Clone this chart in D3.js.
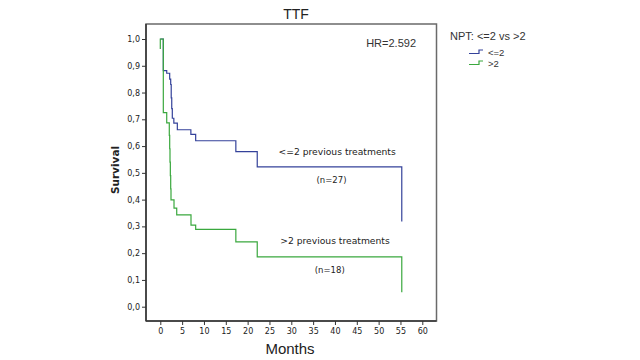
<!DOCTYPE html>
<html><head><meta charset="utf-8">
<script src="https://cdn.jsdelivr.net/npm/d3@7"></script>
<style>body{margin:0;background:#fff}</style>
</head><body>
<svg id="c" width="640" height="360"></svg>
<script>
// Data (time in months, survival proportion)
const groups = ["<=2", ">2"];
const lowTimes = [0, 0.69, 1.47, 2.15, 2.38, 2.5, 2.62, 2.75, 3.1, 3.9, 7.0, 8.1, 17.3, 22.2, 55.3];
const lowSurv  = [1, 0.882, 0.872, 0.85, 0.83, 0.78, 0.74, 0.704, 0.686, 0.661, 0.644, 0.62, 0.579, 0.522, 0.318];
const highTimes = [0, 0, 0.69, 1.47, 2.06, 2.15, 2.22, 2.3, 2.38, 2.45, 3.14, 3.76, 7.03, 8.1, 17.3, 22.2, 55.3];
const highSurv  = [0.963, 1, 0.725, 0.687, 0.64, 0.59, 0.54, 0.49, 0.44, 0.399, 0.368, 0.343, 0.305, 0.289, 0.242, 0.186, 0.054];
const xTicks = [0,5,10,15,20,25,30,35,40,45,50,55,60];
const yTicks = [0,0.1,0.2,0.3,0.4,0.5,0.6,0.7,0.8,0.9,1.0];
const colors = ["#34429a", "#3aa83e"];
const annotations = [
  {text: "<=2 previous treatments", t: 40.5, s: 0.575},
  {text: "(n=27)", t: 39.2, s: 0.472},
  {text: ">2 previous treatments", t: 40.0, s: 0.245},
  {text: "(n=18)", t: 38.8, s: 0.137}
];

const svg = d3.select("#c");
const box = {l: 146, r: 436.5, t: 24, b: 321};
const x = d3.scaleLinear().domain([0, 60]).range([160.3, 422.3]);
const y = d3.scaleLinear().domain([0, 1]).range([306.7, 39]);

svg.append("rect").attr("x", box.l).attr("y", box.t).attr("width", box.r - box.l).attr("height", box.b - box.t)
  .attr("fill", "none").attr("stroke", "#6a6a6a").attr("stroke-width", 1.5);

const yAxis = d3.axisLeft(y).tickValues(yTicks).tickSize(4).tickPadding(2)
  .tickFormat(d => d3.format(".1f")(d).replace(".", ","));
const gy = svg.append("g").attr("transform", `translate(${box.l},0)`).call(yAxis);
gy.select(".domain").remove();
gy.selectAll("line").attr("stroke", "#333");
gy.selectAll("text").attr("font-family", "DejaVu Sans").attr("font-size", 8).attr("fill", "#222");

const xAxis = d3.axisBottom(x).tickValues(xTicks).tickSize(4).tickPadding(3);
const gx = svg.append("g").attr("transform", `translate(0,${box.b})`).call(xAxis);
gx.select(".domain").remove();
gx.selectAll("line").attr("stroke", "#333");
gx.selectAll("text").attr("font-family", "DejaVu Sans").attr("font-size", 8).attr("fill", "#222");

svg.append("line").attr("x1", box.l).attr("x2", box.l).attr("y1", box.t).attr("y2", box.b).attr("stroke", "#333").attr("stroke-width", 1.5);
svg.append("line").attr("x1", box.l).attr("x2", box.r).attr("y1", box.b).attr("y2", box.b).attr("stroke", "#333").attr("stroke-width", 1.5);

const line = d3.line().x(d => x(d[0])).y(d => y(d[1])).curve(d3.curveStepAfter);
const series = [d3.zip(lowTimes, lowSurv), d3.zip(highTimes, highSurv)];
[0, 1].forEach(i => {
  svg.append("path").attr("d", line(series[i])).attr("fill", "none")
    .attr("stroke", colors[i]).attr("stroke-width", 1.2);
});

annotations.forEach(a => {
  const small = a.text.startsWith("(");
  svg.append("text").attr("x", x(a.t)).attr("y", y(a.s)).attr("text-anchor", "middle")
    .attr("font-family", "DejaVu Sans").attr("font-size", small ? 8.5 : 9.2)
    .attr("fill", "#222").attr("dominant-baseline", "middle").text(a.text);
});

svg.append("text").attr("x", 416).attr("y", 47).attr("text-anchor", "end")
  .attr("font-family", "Liberation Sans, Arial").attr("font-size", 11).attr("fill", "#333").text("HR=2.592");

svg.append("text").attr("x", 296).attr("y", 19).attr("text-anchor", "middle")
  .attr("font-family", "Liberation Sans, Arial").attr("font-size", 14).attr("fill", "#222").text("TTF");

svg.append("text").attr("x", 290).attr("y", 354).attr("text-anchor", "middle")
  .attr("font-family", "Liberation Sans, Arial").attr("font-size", 15).attr("fill", "#222").text("Months");

svg.append("text").attr("transform", "translate(119,170) rotate(-90)").attr("text-anchor", "middle")
  .attr("font-family", "DejaVu Sans").attr("font-weight", "bold").attr("font-size", 10.5).attr("fill", "#222").text("Survival");

svg.append("text").attr("x", 450).attr("y", 40).attr("font-family", "Liberation Sans, Arial")
  .attr("font-size", 11).attr("fill", "#333").text("NPT: <=2 vs >2");
groups.forEach((g, i) => {
  const yb = 53.5 + i * 11;
  svg.append("path").attr("d", `M469,${yb}H479V${yb - 3.5}H483`).attr("fill", "none")
    .attr("stroke", colors[i]).attr("stroke-width", 1.2);
  svg.append("text").attr("x", 488).attr("y", yb + 2).attr("font-family", "Liberation Sans, Arial")
    .attr("font-size", 9.5).attr("fill", "#333").text(g);
});
</script>
</body></html>
